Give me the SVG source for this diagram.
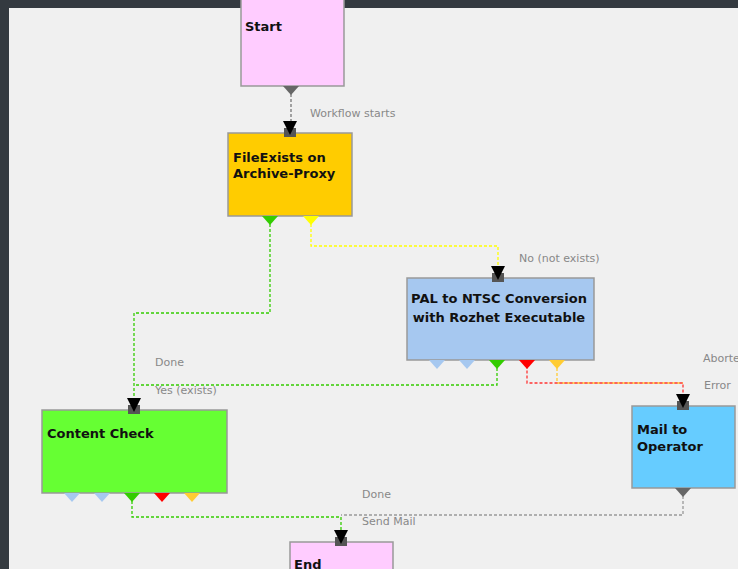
<svg xmlns="http://www.w3.org/2000/svg" width="738" height="569" viewBox="0 0 738 569">
<defs>
<style>
.box{stroke:#999;stroke-width:1.5}
.t{font-family:"DejaVu Sans","Liberation Sans",sans-serif;font-weight:bold;font-size:13px;fill:#111}
.lbl{font-family:"DejaVu Sans","Liberation Sans",sans-serif;font-size:11px;fill:#888}
.c{fill:none;stroke-width:1.3;stroke-dasharray:3,2}
</style>
<g id="inarrow"><rect x="-6" y="-5" width="12" height="9" fill="#555"/><path d="M-7,-12 L7,-12 L0,2 Z" fill="#000"/></g>
<path id="tri" d="M-8,0 L8,0 L0,9 Z"/>
</defs>
<rect width="738" height="569" fill="#343a40"/>
<rect x="9" y="8" width="729" height="561" fill="#f0f0f0"/>
<g id="connectors">
<path class="c" stroke="#777" d="M291,94 V125"/>
<path class="c" stroke="#33cc00" d="M270,224 V313 H134 V402"/>
<path class="c" stroke="#ffff00" d="M311,224 V246 H498 V268"/>
<path class="c" stroke="#33cc00" d="M497,368 V385 H134"/>
<path class="c" stroke="#ffcc33" d="M557,368 V383 H683"/>
<path class="c" stroke="#ff3333" stroke-dashoffset="2.5" d="M527,368 V383 H683 V398"/>
<path class="c" stroke="#33cc00" d="M132,501 V517 H341 V532"/>
<path class="c" stroke="#999" d="M683,496 V515 H341"/>
<text class="lbl" x="310" y="117">Workflow starts</text>
<text class="lbl" x="519" y="262">No (not exists)</text>
<text class="lbl" x="155" y="366">Done</text>
<text class="lbl" x="155" y="394">Yes (exists)</text>
<text class="lbl" x="703" y="362">Aborted</text>
<text class="lbl" x="704" y="389">Error</text>
<text class="lbl" x="362" y="498">Done</text>
<text class="lbl" x="362" y="525">Send Mail</text>
</g>
<g id="start">
<rect class="box" x="241" y="-5" width="103" height="91" fill="#ffccff"/>
<text class="t" x="245" y="31">Start</text>
<use href="#tri" x="291" y="86" fill="#666"/>
</g>
<g id="fileexists">
<rect class="box" x="228" y="133" width="124" height="83" fill="#ffcc00"/>
<text class="t" x="233" y="162">FileExists on</text>
<text class="t" x="233" y="178">Archive-Proxy</text>
<use href="#tri" x="270" y="216" fill="#33cc00"/>
<use href="#tri" x="311" y="216" fill="#ffff00"/>
<use href="#inarrow" x="290" y="133"/>
</g>
<g id="pal">
<rect class="box" x="407" y="278" width="187" height="82" fill="#a6c8f0"/>
<text class="t" x="499" y="303" text-anchor="middle">PAL to NTSC Conversion</text>
<text class="t" x="499" y="322" text-anchor="middle">with Rozhet Executable</text>
<use href="#tri" x="437" y="360" fill="#a6c8f0"/>
<use href="#tri" x="467" y="360" fill="#a6c8f0"/>
<use href="#tri" x="497" y="360" fill="#33cc00"/>
<use href="#tri" x="527" y="360" fill="#ff0000"/>
<use href="#tri" x="557" y="360" fill="#ffcc33"/>
<use href="#inarrow" x="498" y="278"/>
</g>
<g id="contentcheck">
<rect class="box" x="42" y="410" width="185" height="83" fill="#66ff33"/>
<text class="t" x="47" y="438">Content Check</text>
<use href="#tri" x="72" y="493" fill="#a6c8f0"/>
<use href="#tri" x="102" y="493" fill="#a6c8f0"/>
<use href="#tri" x="132" y="493" fill="#33cc00"/>
<use href="#tri" x="162" y="493" fill="#ff0000"/>
<use href="#tri" x="192" y="493" fill="#ffcc33"/>
<use href="#inarrow" x="134" y="410"/>
</g>
<g id="mail">
<rect class="box" x="632" y="406" width="103" height="82" fill="#66ccff"/>
<text class="t" x="637" y="434">Mail to</text>
<text class="t" x="637" y="451">Operator</text>
<use href="#tri" x="683" y="488" fill="#666"/>
<use href="#inarrow" x="683" y="406"/>
</g>
<g id="end">
<rect class="box" x="290" y="542" width="103" height="40" fill="#ffccff"/>
<text class="t" x="294" y="569">End</text>
<use href="#inarrow" x="341" y="542"/>
</g>
</svg>
